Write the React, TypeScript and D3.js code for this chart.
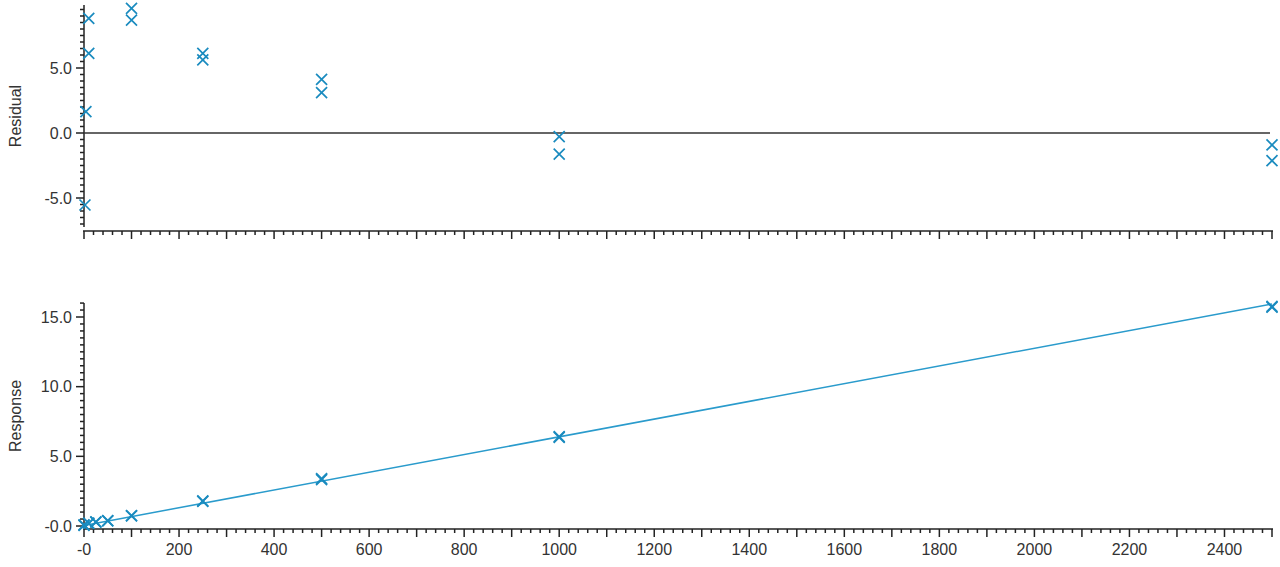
import * as d3 from "d3";
import React, { useEffect, useRef } from "react";

// residual panel
const residualX = [10, 10, 4, 2, 100, 100, 250, 250, 500, 500, 1000, 1000, 2500, 2500];
const residualY = [8.82, 6.13, 1.64, -5.54, 9.59, 8.69, 6.13, 5.62, 4.13, 3.1, -0.28, -1.62, -0.92, -2.13];

// response panel
const responseX = [0, 0, 10, 10, 25, 25, 50, 50, 100, 100, 250, 250, 500, 500, 1000, 1000, 2500, 2500];
const responseY = [0.05, 0.08, 0.18, 0.2, 0.28, 0.3, 0.37, 0.39, 0.72, 0.74, 1.77, 1.8, 3.33, 3.4, 6.36, 6.41, 15.7, 15.76];
const fitX = [0, 2500];
const fitY = [0.04, 15.94];

const xTicks = [0, 200, 400, 600, 800, 1000, 1200, 1400, 1600, 1800, 2000, 2200, 2400];
const xTickLabels = ["-0", "200", "400", "600", "800", "1000", "1200", "1400", "1600", "1800", "2000", "2200", "2400"];
const residualTicks = [-5, 0, 5];
const residualTickLabels = ["-5.0", "0.0", "5.0"];
const responseTicks = [0, 5, 10, 15];
const responseTickLabels = ["-0.0", "5.0", "10.0", "15.0"];

const W = 1280;
const H = 567;
const MARK = "#1a8bbf";
const LINE = "#2a9bcc";
const AXIS = "#222";
const FONT = "'Liberation Sans', Arial, sans-serif";

export default function App() {
  const svgRef = useRef<SVGSVGElement>(null);

  useEffect(() => {
    if (!svgRef.current) return;
    const svg = d3.select(svgRef.current);
    svg.selectAll("*").remove();

    const x = d3.scaleLinear().domain([0, 2500]).range([84, 1272]);
    const yRes = d3.scaleLinear().domain([-5, 5]).range([198, 68]);
    const yResp = d3.scaleLinear().domain([0, 15]).range([526, 317]);

    const cross = (g: d3.Selection<SVGGElement, unknown, null, undefined>, px: number[], py: number[], ys: d3.ScaleLinear<number, number>) => {
      const s = 5.5;
      px.forEach((v, i) => {
        const cx = x(v);
        const cy = ys(py[i]);
        g.append("path")
          .attr("d", `M${cx - s},${cy - s}L${cx + s},${cy + s}M${cx - s},${cy + s}L${cx + s},${cy - s}`)
          .attr("stroke", MARK)
          .attr("stroke-width", 1.7)
          .attr("fill", "none");
      });
    };

    const xAxis = (yPos: number, labels: boolean) => {
      const g = svg.append("g");
      g.append("line").attr("x1", 83).attr("x2", 1273).attr("y1", yPos).attr("y2", yPos)
        .attr("stroke", AXIS).attr("stroke-width", 1.5);
      d3.range(0, 2501, 20).forEach((v) => {
        const major = v % 100 === 0;
        g.append("line").attr("x1", x(v)).attr("x2", x(v))
          .attr("y1", yPos).attr("y2", yPos + (major ? 8 : 4))
          .attr("stroke", AXIS).attr("stroke-width", 1.5);
      });
      if (labels) {
        xTicks.forEach((v, i) => {
          g.append("text").attr("x", x(v)).attr("y", yPos + 26)
            .attr("text-anchor", "middle").attr("fill", "#333")
            .style("font-size", "16px").style("font-family", FONT)
            .text(xTickLabels[i]);
        });
      }
    };

    const yAxis = (ys: d3.ScaleLinear<number, number>, lo: number, hi: number, y0: number, y1: number, ticks: number[], tickLabels: string[], title: string) => {
      const g = svg.append("g");
      g.append("line").attr("x1", 84).attr("x2", 84).attr("y1", y0).attr("y2", y1)
        .attr("stroke", AXIS).attr("stroke-width", 1.5);
      d3.range(lo, hi + 0.001, 0.5).forEach((v) => {
        const major = Math.abs(v % 5) < 1e-6;
        g.append("line").attr("x1", 84).attr("x2", 84 - (major ? 8 : 4))
          .attr("y1", ys(v)).attr("y2", ys(v))
          .attr("stroke", AXIS).attr("stroke-width", 1.5);
      });
      ticks.forEach((v, i) => {
        g.append("text").attr("x", 72).attr("y", ys(v)).attr("dy", "0.35em")
          .attr("text-anchor", "end").attr("fill", "#333")
          .style("font-size", "16px").style("font-family", FONT)
          .text(tickLabels[i]);
      });
      const cy = (y0 + y1) / 2;
      g.append("text").attr("transform", `translate(21,${cy}) rotate(-90)`)
        .attr("text-anchor", "middle").attr("fill", "#333")
        .style("font-size", "16px").style("font-family", FONT)
        .text(title);
    };

    // residual panel
    yAxis(yRes, -7, 9.5, 5, 227, residualTicks, residualTickLabels, "Residual");
    xAxis(231, false);
    svg.append("line").attr("x1", x(0)).attr("x2", x(2500) - 2)
      .attr("y1", yRes(0)).attr("y2", yRes(0))
      .attr("stroke", "#333").attr("stroke-width", 1.5);
    cross(svg.append("g"), residualX, residualY, yRes);

    // response panel
    yAxis(yResp, 0, 16, 303, 529, responseTicks, responseTickLabels, "Response");
    xAxis(529, true);
    const line = d3.line<number>().x((d) => x(d)).y((_, i) => yResp(fitY[i]));
    svg.append("path").attr("d", line(fitX)).attr("fill", "none")
      .attr("stroke", LINE).attr("stroke-width", 1.5);
    cross(svg.append("g"), responseX, responseY, yResp);
  }, []);

  return (
    <svg
      ref={svgRef}
      width={W}
      height={H}
      style={{ position: "absolute", left: 0, top: 0, background: "#fff" }}
    />
  );
}
